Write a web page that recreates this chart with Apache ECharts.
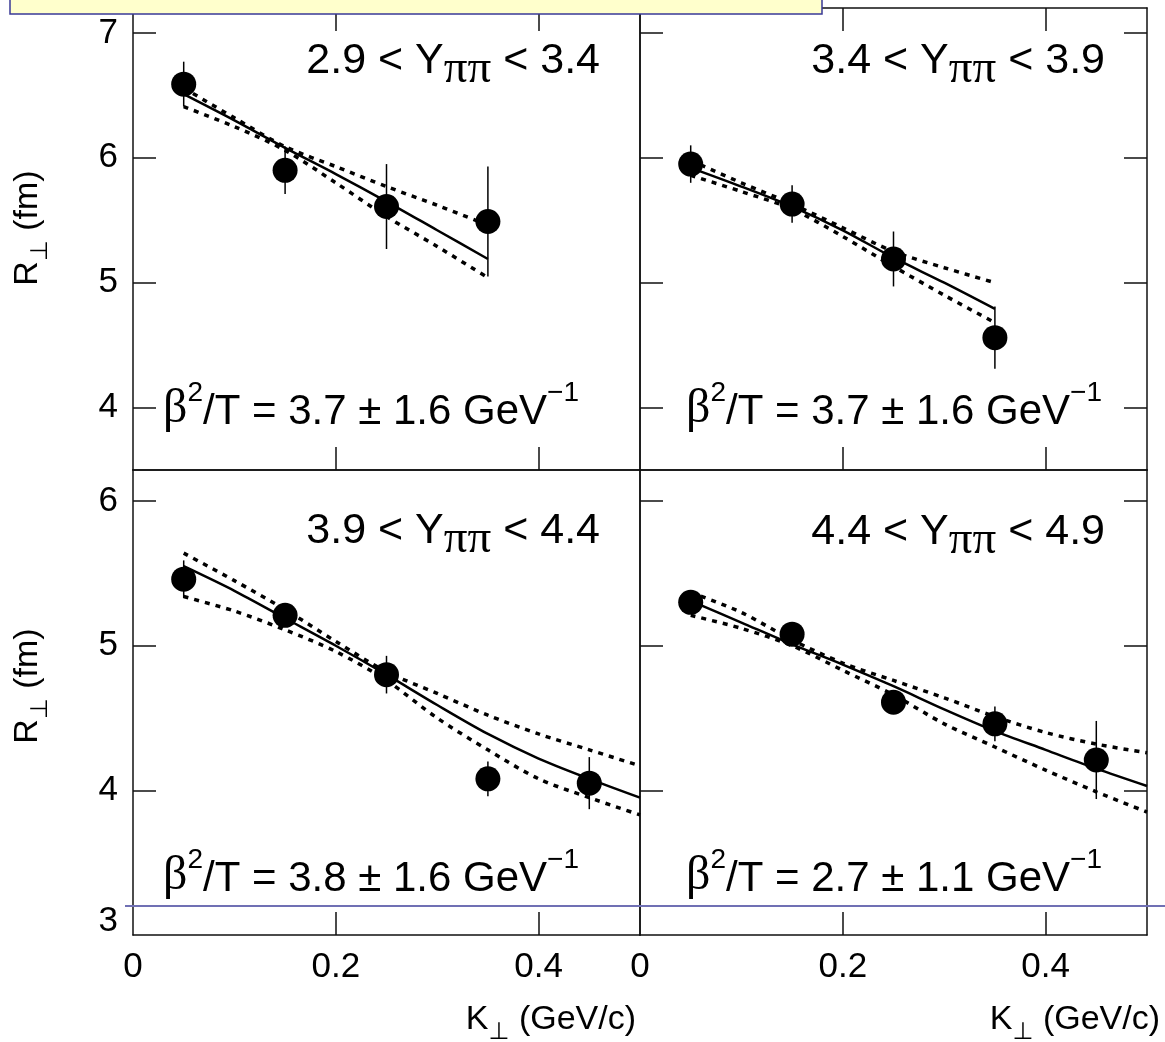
<!DOCTYPE html>
<html>
<head>
<meta charset="utf-8">
<title>R perp vs K perp</title>
<script src="https://cdn.jsdelivr.net/npm/echarts@6/dist/echarts.min.js"></script>
<style>
  html, body { margin: 0; padding: 0; background: #fff; }
  #chart { width: 1165px; height: 1042px; }
</style>
</head>
<body>
<div id="chart"></div>
<script>
// K_perp bin centres (GeV/c)
var kt = [0.05, 0.15, 0.25, 0.35, 0.45];
var fitK = [0.05, 0.10, 0.15, 0.20, 0.25, 0.30, 0.35, 0.40, 0.45, 0.50];

// rapidity bins and fitted beta^2/T
var yLo = ['2.9', '3.4', '3.9', '4.4'];
var yHi = ['3.4', '3.9', '4.4', '4.9'];
var slope = ['3.7 ± 1.6', '3.7 ± 1.6', '3.8 ± 1.6', '2.7 ± 1.1'];

// panel 1 : 2.9 < Y < 3.4
var r1 = [6.59, 5.90, 5.61, 5.49];
var err1 = [0.18, 0.19, 0.34, 0.44];
var fit1 = [6.51, 6.30, 6.08, 5.87, 5.65, 5.42, 5.19];
var hi1 = [6.56, 6.32, 6.09, 5.93, 5.77, 5.62, 5.46];
var lo1 = [6.41, 6.25, 6.06, 5.80, 5.53, 5.29, 5.04];

// panel 2 : 3.4 < Y < 3.9
var r2 = [5.95, 5.63, 5.19, 4.56];
var err2 = [0.15, 0.15, 0.22, 0.25];
var fit2 = [5.92, 5.77, 5.61, 5.42, 5.20, 5.00, 4.79];
var hi2 = [5.98, 5.80, 5.63, 5.44, 5.25, 5.12, 5.00];
var lo2 = [5.86, 5.73, 5.59, 5.37, 5.13, 4.90, 4.68];

// panel 3 : 3.9 < Y < 4.4
var r3 = [5.46, 5.21, 4.80, 4.08, 4.05];
var err3 = [0.13, 0.05, 0.13, 0.12, 0.18];
var fit3 = [5.55, 5.38, 5.19, 5.00, 4.80, 4.59, 4.39, 4.22, 4.08, 3.95];
var hi3 = [5.64, 5.45, 5.25, 5.03, 4.82, 4.67, 4.52, 4.39, 4.28, 4.17];
var lo3 = [5.34, 5.24, 5.11, 4.96, 4.76, 4.50, 4.28, 4.08, 3.95, 3.83];

// panel 4 : 4.4 < Y < 4.9
var r4 = [5.30, 5.08, 4.61, 4.46, 4.21];
var err4 = [0.05, 0.05, 0.07, 0.12, 0.27];
var fit4 = [5.31, 5.16, 5.01, 4.87, 4.72, 4.56, 4.41, 4.28, 4.15, 4.03];
var hi4 = [5.37, 5.23, 5.04, 4.88, 4.76, 4.64, 4.51, 4.40, 4.32, 4.26];
var lo4 = [5.21, 5.12, 5.00, 4.83, 4.66, 4.46, 4.30, 4.14, 3.99, 3.85];

var panels = [
  {r: r1, err: err1, fit: fit1, hi: hi1, lo: lo1},
  {r: r2, err: err2, fit: fit2, hi: hi2, lo: lo2},
  {r: r3, err: err3, fit: fit3, hi: hi3, lo: lo3},
  {r: r4, err: err4, fit: fit4, hi: hi4, lo: lo4}
];

var SANS = 'Liberation Sans';
var SERIF = 'Liberation Serif';
var axisColor = '#111';

var grids = [
  {left: 133, top: 8, width: 507, height: 462},
  {left: 640, top: 8, width: 507, height: 462},
  {left: 133, top: 470, width: 507, height: 465},
  {left: 640, top: 470, width: 507, height: 465}
];
grids.forEach(function (g) { g.outerBoundsMode = 'none'; });

var yRange = [[3.5, 7.2], [3, 6.215]];
var yTicks = [[4, 5, 6, 7], [4, 5, 6]];
var yLabels = [[4, 5, 6, 7], [3, 4, 5, 6]];

var xAxes = [], yAxes = [], series = [];
var lineSt = {color: axisColor, width: 1.5};

function toPairs(xs, ys) {
  return ys.map(function (v, i) { return [xs[i], v]; });
}

function errorBar(params, api) {
  var x = api.value(0), y = api.value(1), e = api.value(2);
  var a = api.coord([x, y + e]);
  var b = api.coord([x, y - e]);
  return {
    type: 'line',
    shape: {x1: a[0], y1: a[1], x2: b[0], y2: b[1]},
    style: {stroke: '#000', lineWidth: 1.5}
  };
}

for (var i = 0; i < 4; i++) {
  var row = i < 2 ? 0 : 1;
  var col = i % 2;
  // bottom / top x axes
  xAxes.push({
    gridIndex: i, type: 'value', min: 0, max: 0.5, position: 'bottom',
    axisLine: {show: true, onZero: false, lineStyle: lineSt},
    axisTick: {show: true, inside: true, length: 23, customValues: [0.2, 0.4], lineStyle: lineSt},
    axisLabel: {
      show: row === 1, customValues: [0, 0.2, 0.4], margin: 15,
      fontSize: 35, fontFamily: SANS, color: '#000',
      formatter: function (v) { return v === 0 ? '0' : v.toFixed(1); }
    },
    splitLine: {show: false}
  });
  xAxes.push({
    gridIndex: i, type: 'value', min: 0, max: 0.5, position: 'top',
    axisLine: {show: true, onZero: false, lineStyle: lineSt},
    axisTick: {show: row === 0, inside: true, length: 23, customValues: [0.2, 0.4], lineStyle: lineSt},
    axisLabel: {show: false},
    splitLine: {show: false}
  });
  // left / right y axes
  yAxes.push({
    gridIndex: i, type: 'value', min: yRange[row][0], max: yRange[row][1], position: 'left',
    axisLine: {show: true, onZero: false, lineStyle: lineSt},
    axisTick: {show: true, inside: true, length: 23, customValues: yTicks[row], lineStyle: lineSt},
    axisLabel: {
      show: col === 0, customValues: yLabels[row], margin: 15,
      fontSize: 35, fontFamily: SANS, color: '#000',
      formatter: function (v) { return v === 3 ? '{up|3}' : String(v); },
      rich: {up: {fontSize: 35, fontFamily: SANS, color: '#000', padding: [0, 0, 28, 0]}}
    },
    splitLine: {show: false}
  });
  yAxes.push({
    gridIndex: i, type: 'value', min: yRange[row][0], max: yRange[row][1], position: 'right',
    axisLine: {show: true, onZero: false, lineStyle: lineSt},
    axisTick: {show: col === 1, inside: true, length: 23, customValues: yTicks[row], lineStyle: lineSt},
    axisLabel: {show: false},
    splitLine: {show: false}
  });

  var p = panels[i];
  var ax = {xAxisIndex: 2 * i, yAxisIndex: 2 * i};
  series.push(Object.assign({
    type: 'line', data: toPairs(fitK, p.fit), showSymbol: false, smooth: 0.3, silent: true, z: 2,
    lineStyle: {color: '#000', width: 2.5}
  }, ax));
  series.push(Object.assign({
    type: 'line', data: toPairs(fitK, p.hi), showSymbol: false, smooth: 0.3, silent: true, z: 2,
    lineStyle: {color: '#000', width: 3.5, type: [5, 6]}
  }, ax));
  series.push(Object.assign({
    type: 'line', data: toPairs(fitK, p.lo), showSymbol: false, smooth: 0.3, silent: true, z: 2,
    lineStyle: {color: '#000', width: 3.5, type: [5, 6]}
  }, ax));
  series.push(Object.assign({
    type: 'custom', renderItem: errorBar, silent: true, z: 3,
    data: p.r.map(function (v, j) { return [kt[j], v, p.err[j]]; })
  }, ax));
  series.push(Object.assign({
    type: 'scatter', data: toPairs(kt, p.r), symbol: 'circle', symbolSize: 25, silent: true, z: 4,
    itemStyle: {color: '#000', opacity: 1}
  }, ax));
}

// text annotations
var titleRich = {
  n: {fontFamily: SANS, fontSize: 43, lineHeight: 44, color: '#000', verticalAlign: 'top'},
  p: {fontFamily: SERIF, fontSize: 47, lineHeight: 44, color: '#000', verticalAlign: 'top', padding: [6, 0, 0, 0]}
};
var betaRich = {
  n: {fontFamily: SANS, fontSize: 42, lineHeight: 42, color: '#000', verticalAlign: 'bottom'},
  g: {fontFamily: SERIF, fontSize: 48, lineHeight: 42, color: '#000', verticalAlign: 'bottom'},
  s: {fontFamily: SANS, fontSize: 28, lineHeight: 54, color: '#000', verticalAlign: 'top'}
};
var nameRich = {
  n: {fontFamily: SANS, fontSize: 34, lineHeight: 34, color: '#000', verticalAlign: 'top'},
  s: {fontFamily: 'DejaVu Sans', fontSize: 24, lineHeight: 24, color: '#000', verticalAlign: 'top', padding: [18, 0, 0, 0]}
};

var titlePos = [[600, 62], [1105, 62], [600, 532], [1105, 533]];
var betaPos = [[163, 412], [686, 412], [163, 879], [686, 879]];

var graphic = [];
for (var k = 0; k < 4; k++) {
  graphic.push({
    type: 'text', x: titlePos[k][0], y: titlePos[k][1] - 22, z: 50,
    style: {
      text: '{n|' + yLo[k] + ' < Y}{p|ππ}{n| < ' + yHi[k] + '}',
      rich: titleRich, align: 'right', verticalAlign: 'top'
    }
  });
  graphic.push({
    type: 'text', x: betaPos[k][0], y: betaPos[k][1] - 33, z: 50,
    style: {
      text: '{g|β}{s|2}{n|/T = ' + slope[k] + ' GeV}{s|−1}',
      rich: betaRich, align: 'left', verticalAlign: 'top'
    }
  });
}
[[28, 228], [28, 686]].forEach(function (pos) {
  graphic.push({
    type: 'text', x: pos[0], y: pos[1], rotation: Math.PI / 2, z: 50,
    style: {text: '{n|R}{s|⊥}{n| (fm)}', rich: nameRich, align: 'center', verticalAlign: 'middle'}
  });
});
[[636, 1020], [1160, 1020]].forEach(function (pos) {
  graphic.push({
    type: 'text', x: pos[0], y: pos[1] - 17, z: 50,
    style: {text: '{n|K}{s|⊥}{n| (GeV/c)}', rich: nameRich, align: 'right', verticalAlign: 'top'}
  });
});
// slide overlay: yellow text box at the top and a blue rule near the bottom
graphic.push({
  type: 'rect', z: 100,
  shape: {x: 10, y: -4, width: 812, height: 18},
  style: {fill: '#FFFFCC', stroke: '#3A3A96', lineWidth: 1.5}
});
graphic.push({
  type: 'line', z: 100,
  shape: {x1: 125, y1: 906, x2: 1165, y2: 906},
  style: {stroke: '#7070B4', lineWidth: 2}
});

var chart = echarts.init(document.getElementById('chart'));
chart.setOption({
  animation: false,
  backgroundColor: '#fff',
  textStyle: {fontFamily: SANS},
  grid: grids,
  xAxis: xAxes,
  yAxis: yAxes,
  series: series,
  graphic: graphic
});
</script>
</body>
</html>
